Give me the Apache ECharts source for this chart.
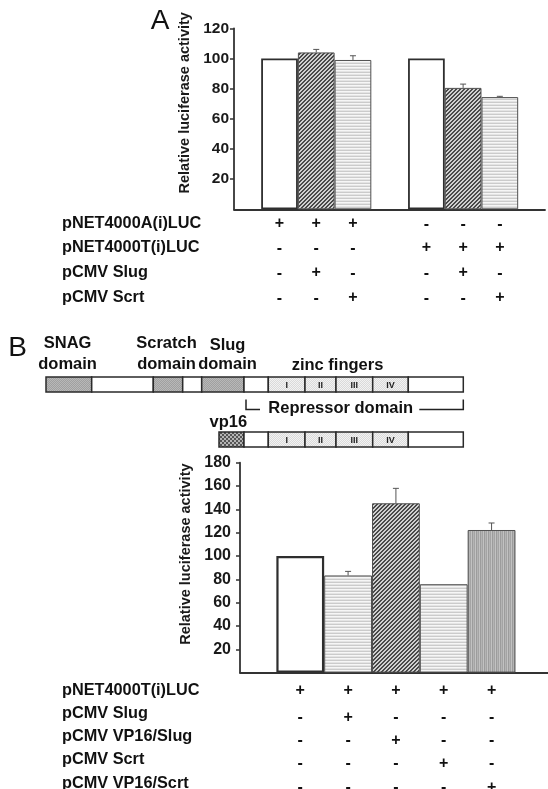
<!DOCTYPE html>
<html><head><meta charset="utf-8">
<script src="https://cdn.jsdelivr.net/npm/echarts@6/dist/echarts.min.js"></script>
<style>html,body{margin:0;padding:0;background:#fff}#c{width:548px;height:789px}</style>
</head><body><div id="c"></div>
<script>
// ---------- Panel A data ----------
const aTicks = [20, 40, 60, 80, 100, 120];
const aValues = [100, 104, 99, 100, 80.5, 74.4];
const aErrors = [0, 2, 2.8, 0, 2.5, 0.5];
const aFills = ['white', 'hatch', 'hlines', 'white', 'hatch', 'hlines'];
const aRowLabels = ['pNET4000A(i)LUC', 'pNET4000T(i)LUC', 'pCMV Slug', 'pCMV Scrt'];
const aRowSigns = [
  ['+', '+', '+', '-', '-', '-'],
  ['-', '-', '-', '+', '+', '+'],
  ['-', '+', '-', '-', '+', '-'],
  ['-', '-', '+', '-', '-', '+']
];
// ---------- Panel B data ----------
const bTicks = [20, 40, 60, 80, 100, 120, 140, 160, 180];
const bValues = [100, 83.3, 145.2, 75.8, 122.3];
const bErrors = [0, 3.5, 12.8, 0, 6];
const bFills = ['white', 'hlines', 'hatch', 'hlines', 'vlines'];
const bRowLabels = ['pNET4000T(i)LUC', 'pCMV Slug', 'pCMV VP16/Slug', 'pCMV Scrt', 'pCMV VP16/Scrt'];
const bRowSigns = [
  ['+', '+', '+', '+', '+'],
  ['-', '+', '-', '-', '-'],
  ['-', '-', '+', '-', '-'],
  ['-', '-', '-', '+', '-'],
  ['-', '-', '-', '-', '+']
];
// ---------- Domain diagram (segment lengths, relative units) ----------
const constructs = ['Slug', 'VP16/Slug'];
const slugSegments = [
  ['', 45.7, 'gray'], ['', 61.6, 'white'], ['', 29.4, 'gray'], ['', 19, 'white'],
  ['', 42.3, 'gray'], ['', 24.3, 'white'], ['I', 36.7, 'zinc'], ['II', 31, 'zinc'],
  ['III', 36.7, 'zinc'], ['IV', 35.6, 'zinc'], ['', 55, 'white']
];
const vp16Offset = 173;
const vp16Segments = [
  ['', 25, 'vp16'], ['', 24.3, 'white'], ['I', 36.7, 'zinc'], ['II', 31, 'zinc'],
  ['III', 36.7, 'zinc'], ['IV', 35.6, 'zinc'], ['', 55, 'white']
];
const domainLabels = [
  ['SNAG', 'domain', 21.6, 0], ['Scratch', 'domain', 120.5, 0], ['Slug', 'domain', 181.5, 2]
];

const FONT = '"Liberation Sans", Arial, Helvetica, sans-serif';

function makeCanvas(w, h, fn) {
  const c = document.createElement('canvas'); c.width = w; c.height = h;
  const g = c.getContext('2d'); fn(g); return { image: c, repeat: 'repeat' };
}
const FILLS = {
  white: '#ffffff',
  hatch: makeCanvas(4, 4, g => {
    g.fillStyle = '#cfcfcf'; g.fillRect(0, 0, 4, 4);
    g.fillStyle = '#484848';
    for (let x = 0; x < 4; x++) for (let y = 0; y < 4; y++) if ((x + y) % 4 < 2) g.fillRect(x, y, 1, 1);
  }),
  hlines: makeCanvas(1, 3, g => {
    g.fillStyle = '#cbcbcb'; g.fillRect(0, 0, 1, 1);
    g.fillStyle = '#f6f6f6'; g.fillRect(0, 1, 1, 1);
    g.fillStyle = '#e4e4e4'; g.fillRect(0, 2, 1, 1);
  }),
  vlines: makeCanvas(4, 1, g => {
    const cs = ['#9c9c9c', '#b4b4b4', '#a4a4a4', '#c2c2c2'];
    cs.forEach((c, i) => { g.fillStyle = c; g.fillRect(i, 0, 1, 1); });
  }),
  gray: makeCanvas(2, 2, g => {
    g.fillStyle = '#a0a0a0'; g.fillRect(0, 0, 2, 2);
    g.fillStyle = '#b8b8b8'; g.fillRect(0, 0, 1, 1); g.fillRect(1, 1, 1, 1);
  }),
  zinc: makeCanvas(2, 2, g => {
    g.fillStyle = '#dadada'; g.fillRect(0, 0, 2, 2);
    g.fillStyle = '#f2f2f2'; g.fillRect(0, 0, 1, 1); g.fillRect(1, 1, 1, 1);
  }),
  vp16: makeCanvas(4, 4, g => {
    g.fillStyle = '#b4b4b4'; g.fillRect(0, 0, 4, 4);
    g.fillStyle = '#555555'; g.fillRect(0, 0, 2, 2); g.fillRect(2, 2, 2, 2);
  })
};

// bar positions: panel A groups of 3 separated by one empty slot
const aX = aValues.map((v, i) => Math.floor(i / 3) * 4 + (i % 3));
const bX = bValues.map((v, i) => i);

function barData(xs, vals, fills, thick) {
  return vals.map((v, i) => ({
    value: [xs[i], v],
    itemStyle: {
      color: FILLS[fills[i]],
      borderColor: fills[i] === 'white' ? '#2e2e2e' : '#505050',
      borderWidth: fills[i] === 'white' ? thick : 1
    }
  }));
}
// only bars that carry an error bar
function errData(xs, vals, errs) {
  return vals.map((v, i) => [xs[i], v, v + errs[i]]).filter((d, i) => errs[i] > 0);
}
function errRender(params, api) {
  const base = api.coord([api.value(0), api.value(1)]);
  const top = api.coord([api.value(0), api.value(2)]);
  const st = { stroke: '#555', lineWidth: 1 };
  return {
    type: 'group', children: [
      { type: 'line', shape: { x1: top[0], y1: base[1], x2: top[0], y2: top[1] }, style: st },
      { type: 'line', shape: { x1: top[0] - 3, y1: top[1], x2: top[0] + 3, y2: top[1] }, style: st }
    ]
  };
}

// diagram segment data
const segData = [];
let acc = 0;
slugSegments.forEach(s => { segData.push({ value: [acc, acc + s[1], 0], name: s[0], kind: s[2] }); acc += s[1]; });
acc = vp16Offset;
vp16Segments.forEach(s => { segData.push({ value: [acc, acc + s[1], 1], name: s[0], kind: s[2] }); acc += s[1]; });
const diagramMax = slugSegments.reduce((a, s) => a + s[1], 0);

function segRender(params, api) {
  const d = segData[params.dataIndex];
  const s = api.coord([api.value(0), api.value(2)]);
  const e = api.coord([api.value(1), api.value(2)]);
  const h = 15;
  const children = [{
    type: 'rect', shape: { x: s[0], y: s[1] - h / 2, width: e[0] - s[0], height: h },
    style: { fill: FILLS[d.kind], stroke: '#2a2a2a', lineWidth: 1.5 }
  }];
  if (d.name) children.push({
    type: 'text', style: {
      x: (s[0] + e[0]) / 2, y: s[1] + 1, text: d.name, align: 'center', verticalAlign: 'middle',
      font: 'bold 9px ' + FONT, fill: '#222'
    }
  });
  return { type: 'group', children };
}

const axisTxt = { color: '#1a1a1a', fontWeight: 'bold', fontFamily: FONT };

const option = {
  animation: false,
  backgroundColor: '#ffffff',
  grid: [
    { left: 234, top: 28.3, width: 311, height: 181 },
    { left: 240, top: 462.7, width: 308, height: 209.9 },
    { left: 46, top: 357, width: diagramMax, height: 110 }
  ],
  xAxis: [
    { gridIndex: 0, type: 'value', min: -1.24, max: 7.23, axisLine: { onZero: false, lineStyle: { color: '#333', width: 1.8 } },
      axisTick: { show: false }, axisLabel: { show: false }, splitLine: { show: false } },
    { gridIndex: 1, type: 'value', min: -1.26, max: 5.18, axisLine: { onZero: false, lineStyle: { color: '#333', width: 1.8 } },
      axisTick: { show: false }, axisLabel: { show: false }, splitLine: { show: false } },
    { gridIndex: 2, type: 'value', min: 0, max: diagramMax, show: false }
  ],
  yAxis: [
    { gridIndex: 0, type: 'value', min: 0, max: 120, interval: 20,
      axisLine: { show: true, onZero: false, lineStyle: { color: '#333', width: 1.8 } },
      axisTick: { show: true, length: 4, customValues: aTicks, lineStyle: { color: '#333', width: 1.5 } },
      axisLabel: { customValues: aTicks, margin: 5, fontSize: 15.5, ...axisTxt },
      splitLine: { show: false },
      name: 'Relative luciferase activity', nameLocation: 'middle', nameGap: 35, nameRotate: 90,
      nameTextStyle: { fontSize: 14.5, ...axisTxt, padding: [0, 0, 0, 32] } },
    { gridIndex: 1, type: 'value', min: 0, max: 180, interval: 20,
      axisLine: { show: true, onZero: false, lineStyle: { color: '#333', width: 1.8 } },
      axisTick: { show: true, length: 4, customValues: bTicks, lineStyle: { color: '#333', width: 1.5 } },
      axisLabel: { customValues: bTicks, margin: 9, fontSize: 16, ...axisTxt },
      splitLine: { show: false },
      name: 'Relative luciferase activity', nameLocation: 'middle', nameGap: 43, nameRotate: 90,
      nameTextStyle: { fontSize: 14.5, ...axisTxt, padding: [0, 0, 0, 27] } },
    { gridIndex: 2, type: 'category', data: constructs, inverse: true, show: false }
  ],
  series: [
    { type: 'bar', xAxisIndex: 0, yAxisIndex: 0, barWidth: 36.7, data: barData(aX, aValues, aFills, 1.8) },
    { type: 'custom', xAxisIndex: 0, yAxisIndex: 0, renderItem: errRender, data: errData(aX, aValues, aErrors), z: 5 },
    { type: 'bar', xAxisIndex: 1, yAxisIndex: 1, barWidth: 47.8, data: barData(bX, bValues, bFills, 2.2) },
    { type: 'custom', xAxisIndex: 1, yAxisIndex: 1, renderItem: errRender, data: errData(bX, bValues, bErrors), z: 5 },
    { type: 'custom', xAxisIndex: 2, yAxisIndex: 2, renderItem: segRender, data: segData.map(d => d.value) }
  ]
};

const chart = echarts.init(document.getElementById('c'), null, { renderer: 'canvas' });
chart.setOption(option);

// ---------- annotations: tables, labels, bracket ----------
const g = [];
const txt = (x, y, text, size, align, weight) => g.push({
  type: 'text', x, y, z: 20,
  style: { text, font: (weight || 'bold') + ' ' + size + 'px ' + FONT, fill: '#111', align: align || 'left', verticalAlign: 'middle' }
});

const aCols = aX.map(x => chart.convertToPixel({ xAxisIndex: 0 }, x));
const aBase = chart.convertToPixel({ yAxisIndex: 0 }, 0);
aRowLabels.forEach((lab, r) => {
  const y = aBase + 14 + r * 24.7;
  txt(62, y, lab, 16.3);
  aRowSigns[r].forEach((s, c) => txt(aCols[c], y + (s === '-' ? 1 : 0), s, 16, 'center'));
});

const bCols = bX.map(x => chart.convertToPixel({ xAxisIndex: 1 }, x));
const bBase = chart.convertToPixel({ yAxisIndex: 1 }, 0);
bRowLabels.forEach((lab, r) => {
  const y = bBase + 17.5 + r * 23.3;
  txt(62, y, lab, 16.3);
  bRowSigns[r].forEach((s, c) => txt(bCols[c], y + (r > 0 ? 4 : 0), s, 16, 'center'));
});

// panel letters
txt(chart.convertToPixel({ xAxisIndex: 0 }, -1.24) - 74, chart.convertToPixel({ yAxisIndex: 0 }, 120) - 7, 'A', 28, 'center', 'normal');
txt(17.5, 348.5, 'B', 28, 'center', 'normal');

// domain labels
const row0 = chart.convertToPixel({ yAxisIndex: 2 }, 0);
const row1 = chart.convertToPixel({ yAxisIndex: 2 }, 1);
const dx = v => chart.convertToPixel({ xAxisIndex: 2 }, v);
domainLabels.forEach(d => {
  txt(dx(d[2]), row0 - 41 + d[3], d[0], 16.5, 'center');
  txt(dx(d[2]), row0 - 20, d[1], 16.5, 'center');
});
txt(dx(291.5), row0 - 19, 'zinc fingers', 16.5, 'center');
txt(dx(182.3), row1 - 17, 'vp16', 16.5, 'center');
// repressor bracket
const by = row0 + 25;
g.push({ type: 'polyline', z: 20, shape: { points: [[dx(200), by - 10], [dx(200), by], [dx(214), by]] }, style: { stroke: '#222', lineWidth: 1.5, fill: null } });
g.push({ type: 'polyline', z: 20, shape: { points: [[dx(373.3), by], [dx(diagramMax), by], [dx(diagramMax), by - 10]] }, style: { stroke: '#222', lineWidth: 1.5, fill: null } });
txt(dx(222.3), by - 1, 'Repressor domain', 16.5, 'left');

chart.setOption({ graphic: { elements: g } });
</script>
</body></html>
